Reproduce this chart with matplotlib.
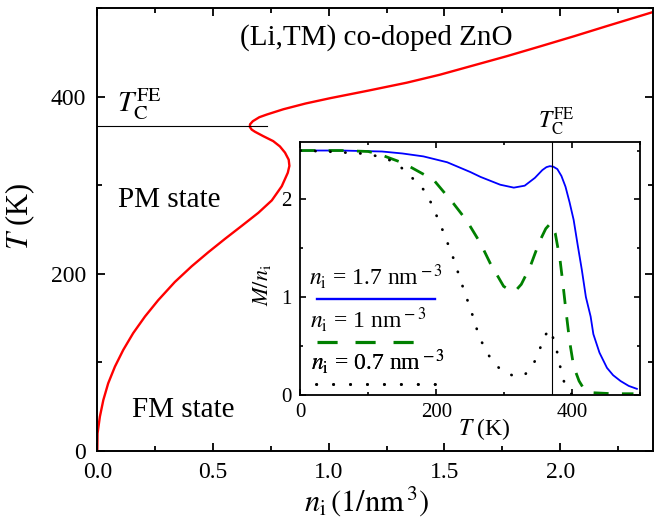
import matplotlib
matplotlib.use("Agg")
import matplotlib.pyplot as plt
import matplotlib.ticker as ticker
from matplotlib.lines import Line2D

plt.rcParams['font.family'] = ['Liberation Serif', 'DejaVu Serif']
plt.rcParams['mathtext.fontset'] = 'stix'

# main panel: Tc^FE curve, T vs n_i
n_main = [0.0, 0.001, 0.011, 0.026, 0.047, 0.076, 0.112, 0.155, 0.206, 0.263,
          0.335, 0.408, 0.480, 0.552, 0.624, 0.696, 0.754, 0.797, 0.823, 0.830,
          0.827, 0.811, 0.789, 0.760, 0.717, 0.681, 0.667, 0.659, 0.660, 0.672,
          0.700, 0.732, 0.804, 0.900, 1.006, 1.170, 1.337, 1.480, 1.625, 1.770,
          1.913, 2.060, 2.202, 2.403]
T_main = [0, 19.7, 38.5, 57.4, 76.3, 95.1, 114, 133, 151.8, 170.2,
          190.8, 208.6, 224.5, 239.6, 254.2, 269, 283, 299, 314.2, 322,
          329, 337, 344, 350, 355.6, 360.6, 363, 366, 369, 372.5,
          377, 380, 386, 392.5, 398.5, 407, 416, 425, 435.5, 446,
          457, 468.5, 480, 496]
Tc_main = 367
Tc_line_end = 0.732

# inset: M/n_i vs T
T_blue = [0, 60, 120, 150, 181, 216, 250, 265, 294, 314, 330, 345, 356, 362,
          367, 372, 378, 384, 390, 396, 402, 408, 414, 420, 427, 431, 440,
          451, 460, 471, 483, 495]
M_blue = [2.50, 2.50, 2.49, 2.47, 2.44, 2.38, 2.28, 2.23, 2.15, 2.12, 2.14,
          2.22, 2.30, 2.33, 2.34, 2.335, 2.31, 2.24, 2.13, 1.97, 1.79, 1.53,
          1.28, 1.00, 0.80, 0.62, 0.43, 0.275, 0.20, 0.14, 0.09, 0.06]

T_green = [0, 60, 100, 117, 152, 196, 225, 245, 265, 279, 299, 308, 316, 325,
           338, 346, 353, 361, 368, 375, 382, 386, 390, 396, 402, 410, 417,
           424, 431, 460, 490]
M_green = [2.50, 2.50, 2.49, 2.46, 2.37, 2.20, 1.96, 1.78, 1.55, 1.35, 1.11,
           1.07, 1.06, 1.13, 1.31, 1.46, 1.585, 1.70, 1.755, 1.65, 1.38, 1.15,
           0.90, 0.55, 0.29, 0.14, 0.06, 0.035, 0.02, 0.01, 0.01]

T_black = [0, 40, 61, 82, 102, 120, 140, 154, 169, 184, 194, 209, 224, 243,
           250, 256, 262, 270, 280, 294, 314, 331, 344, 352, 358, 367, 374,
           379, 383, 388, 395, 400]
M_black = [2.50, 2.49, 2.48, 2.475, 2.46, 2.43, 2.38, 2.29, 2.19, 2.08, 1.94,
           1.69, 1.42, 1.02, 0.89, 0.75, 0.62, 0.49, 0.37, 0.26, 0.19, 0.21,
           0.33, 0.46, 0.59, 0.67, 0.54, 0.40, 0.26, 0.13, 0.03, 0.0]
Tc_inset = 370

labels = [r'$n_{\rm i}$ = 1.7 nm$^{\rm -3}$',
          r'$n_{\rm i}$ = 1 nm$^{\rm -3}$',
          r'$n_{\rm i}$ = 0.7 nm$^{\rm -3}$']

fig = plt.figure(figsize=(6.62, 5.23), dpi=100)
ax = fig.add_axes([0.147, 0.138, 0.839, 0.846])

ax.plot(n_main, T_main, color='red', lw=1.7)
ax.plot([0, Tc_line_end], [Tc_main, Tc_main], color='black', lw=0.8)

ax.set_xlim(0, 2.4)
ax.set_ylim(0, 500)
ax.xaxis.set_major_locator(ticker.MultipleLocator(0.5))
ax.xaxis.set_minor_locator(ticker.MultipleLocator(0.25))
ax.xaxis.set_major_formatter(ticker.FormatStrFormatter('%.1f'))
ax.yaxis.set_major_locator(ticker.MultipleLocator(200))
ax.yaxis.set_minor_locator(ticker.MultipleLocator(100))
ax.tick_params(which='both', direction='in', top=True, right=True,
               width=1.3, labelsize=17, pad=8)
ax.tick_params(which='major', length=6)
ax.tick_params(which='minor', length=3.5)
for s in ax.spines.values():
    s.set_linewidth(1.4)

ax.set_xlabel(r'$n_{\rm i}\,(1/{\rm nm}^{\,3})$', fontsize=22)
ax.xaxis.set_label_coords(0.484, -0.075)
ax.set_ylabel(r'$T\,\,$(K)', fontsize=22)
ax.yaxis.set_label_coords(-0.108, 0.53)

ax.text(1.207, 459.5, '(Li,TM) co-doped ZnO', fontsize=21, ha='center',
        va='baseline')
ax.text(0.09, 276, 'PM state', fontsize=21, ha='left', va='baseline')
ax.text(0.148, 38.5, 'FM state', fontsize=21, ha='left', va='baseline')
ax.text(0.083, 383, r'$T_{\rm C}^{\rm FE}$', fontsize=21, ha='left',
        va='baseline')

# inset
axi = fig.add_axes([0.4536, 0.2453, 0.5136, 0.4837])
axi.plot(T_blue, M_blue, color='blue', lw=1.3)
axi.plot(T_green, M_green, color='green', lw=2.0, dashes=(5.4, 4.8))
axi.plot(T_black, M_black, color='black', lw=2.0, dashes=(0.1, 5.3),
         dash_capstyle='round')
axi.axvline(Tc_inset, color='black', lw=0.8)

axi.set_xlim(0, 500)
axi.set_ylim(0, 2.59)
axi.xaxis.set_major_locator(ticker.MultipleLocator(200))
axi.xaxis.set_minor_locator(ticker.MultipleLocator(100))
axi.yaxis.set_major_locator(ticker.MultipleLocator(1))
axi.yaxis.set_minor_locator(ticker.MultipleLocator(0.5))
axi.tick_params(which='both', direction='in', top=True, right=True,
                width=1.2, labelsize=15, pad=6)
axi.tick_params(which='major', length=4.5)
axi.tick_params(which='minor', length=2.5)
for s in axi.spines.values():
    s.set_linewidth(1.3)

axi.set_xlabel(r'$T\,\,$(K)', fontsize=17)
axi.xaxis.set_label_coords(0.542, -0.085)
axi.set_ylabel(r'$M/n_{\rm i}$', fontsize=16)
axi.yaxis.set_label_coords(-0.08, 0.434)
axi.text(350, 2.72, r'$T_{\rm C}^{\rm FE}$', fontsize=17, ha='left',
         va='baseline', clip_on=False)

# legend: label text above each line sample
handles = [Line2D([], [], color='blue', lw=1.7),
           Line2D([], [], color='green', lw=2.3, dashes=(6.3, 5.6)),
           Line2D([], [], color='black', lw=2.0, dashes=(0.1, 6.0),
                  dash_capstyle='round')]
hlen = [5.0, 4.35, 5.2]
anchors = [(0.223, 0.525), (0.199, 0.354), (0.228, 0.188)]
for h, lab, hl, anc in zip(handles, labels, hlen, anchors):
    leg = axi.legend(handles=[h], labels=[''], title=lab, loc='upper center',
                     bbox_to_anchor=anc, frameon=False, handlelength=hl,
                     handletextpad=0, borderpad=0, borderaxespad=0,
                     labelspacing=0, fontsize=17, title_fontsize=17,
                     alignment='center')
    axi.add_artist(leg)

fig.savefig('out.png', dpi=100)
